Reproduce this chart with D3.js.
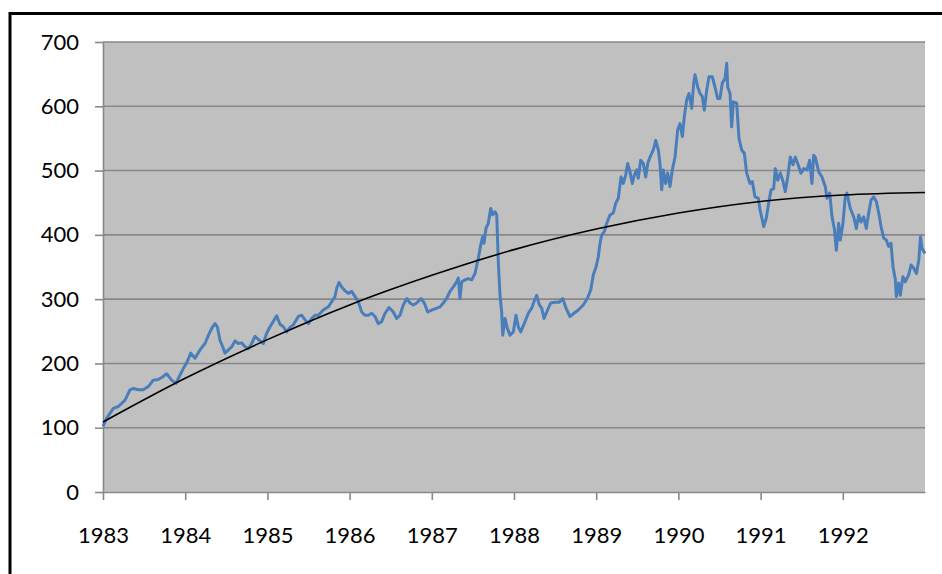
<!DOCTYPE html>
<meta charset="utf-8">

<!-- Load d3.js -->
<script src="https://d3js.org/d3.v7.min.js"></script>

<style>
body {
  margin: 0;
  background: #fff;
  font-family: Lato, "Open Sans", Arial, sans-serif;
}
</style>

<div id="chart"></div>

<script>

// Price series (decimal year, value)
var dates = [
  1983.000, 1983.045, 1983.126, 1983.187, 1983.268, 1983.328, 1983.369, 1983.430, 1983.490, 1983.551,
  1983.612, 1983.673, 1983.714, 1983.775, 1983.835, 1983.888, 1983.937, 1983.977, 1984.026, 1984.067,
  1984.119, 1984.180, 1984.241, 1984.293, 1984.334, 1984.363, 1984.391, 1984.423, 1984.456, 1984.484,
  1984.525, 1984.566, 1984.606, 1984.646, 1984.687, 1984.728, 1984.768, 1984.809, 1984.849, 1984.902,
  1984.950, 1984.991, 1985.032, 1985.113, 1985.153, 1985.193, 1985.235, 1985.275, 1985.315, 1985.376,
  1985.417, 1985.457, 1985.498, 1985.539, 1985.579, 1985.619, 1985.680, 1985.741, 1985.782, 1985.822,
  1985.843, 1985.871, 1985.904, 1985.944, 1985.984, 1986.026, 1986.066, 1986.106, 1986.147, 1986.187,
  1986.228, 1986.269, 1986.309, 1986.349, 1986.390, 1986.431, 1986.479, 1986.532, 1986.573, 1986.613,
  1986.653, 1986.695, 1986.735, 1986.775, 1986.816, 1986.869, 1986.909, 1986.950, 1986.999, 1987.060,
  1987.100, 1987.140, 1987.181, 1987.221, 1987.262, 1987.303, 1987.322, 1987.343, 1987.364, 1987.404,
  1987.444, 1987.485, 1987.526, 1987.566, 1987.595, 1987.619, 1987.635, 1987.659, 1987.687, 1987.717,
  1987.741, 1987.769, 1987.790, 1987.809, 1987.830, 1987.850, 1987.863, 1987.891, 1987.918, 1987.951,
  1987.992, 1988.024, 1988.052, 1988.082, 1988.134, 1988.174, 1988.215, 1988.243, 1988.276, 1988.308,
  1988.337, 1988.365, 1988.398, 1988.446, 1988.499, 1988.551, 1988.593, 1988.633, 1988.681, 1988.730,
  1988.782, 1988.843, 1988.892, 1988.933, 1988.965, 1988.998, 1989.026, 1989.046, 1989.067, 1989.099,
  1989.128, 1989.168, 1989.208, 1989.237, 1989.269, 1989.302, 1989.330, 1989.359, 1989.383, 1989.411,
  1989.439, 1989.464, 1989.493, 1989.512, 1989.541, 1989.573, 1989.602, 1989.627, 1989.655, 1989.695,
  1989.724, 1989.756, 1989.776, 1989.797, 1989.816, 1989.845, 1989.870, 1989.898, 1989.926, 1989.959,
  1989.991, 1990.019, 1990.048, 1990.072, 1990.101, 1990.129, 1990.162, 1990.186, 1990.202, 1990.235,
  1990.263, 1990.291, 1990.315, 1990.344, 1990.372, 1990.412, 1990.445, 1990.478, 1990.506, 1990.534,
  1990.567, 1990.588, 1990.600, 1990.628, 1990.648, 1990.668, 1990.709, 1990.737, 1990.770, 1990.802,
  1990.831, 1990.871, 1990.899, 1990.932, 1990.972, 1990.993, 1991.038, 1991.069, 1991.098, 1991.127,
  1991.159, 1991.179, 1991.208, 1991.240, 1991.273, 1991.300, 1991.330, 1991.361, 1991.394, 1991.422,
  1991.451, 1991.491, 1991.524, 1991.564, 1991.597, 1991.625, 1991.646, 1991.665, 1991.707, 1991.747,
  1991.787, 1991.808, 1991.841, 1991.869, 1991.897, 1991.921, 1991.950, 1991.970, 1992.002, 1992.030,
  1992.051, 1992.091, 1992.133, 1992.164, 1992.194, 1992.221, 1992.254, 1992.286, 1992.315, 1992.343,
  1992.376, 1992.408, 1992.437, 1992.465, 1992.498, 1992.529, 1992.558, 1992.586, 1992.611, 1992.639,
  1992.651, 1992.680, 1992.699, 1992.732, 1992.760, 1992.802, 1992.830, 1992.863, 1992.896, 1992.925,
  1992.945, 1992.964, 1993.000
]

var prices = [
  102, 115, 130, 133, 143, 159, 161, 159, 159, 164,
  174, 175, 178, 184, 174, 169, 182, 192, 203, 216,
  208, 221, 231, 247, 257, 262, 257, 236, 226, 216,
  221, 226, 235, 231, 232, 226, 223, 231, 242, 236,
  231, 247, 257, 274, 261, 257, 249, 256, 260, 273,
  275, 268, 262, 270, 275, 275, 283, 288, 296, 304,
  317, 326, 319, 313, 309, 312, 304, 296, 280, 275,
  275, 278, 273, 262, 265, 278, 287, 280, 270, 275,
  291, 301, 294, 291, 294, 301, 294, 280, 283, 286,
  288, 294, 301, 312, 319, 327, 333, 301, 327, 330,
  332, 330, 340, 364, 384, 397, 387, 410, 418, 441,
  431, 436, 431, 358, 306, 280, 244, 270, 255, 244,
  249, 275, 257, 249, 265, 278, 286, 296, 306, 291,
  286, 270, 280, 294, 295, 295, 301, 286, 273, 278,
  283, 291, 301, 314, 338, 350, 366, 387, 400, 405,
  418, 431, 434, 449, 457, 490, 480, 493, 511, 498,
  480, 493, 501, 488, 516, 511, 490, 511, 521, 532,
  547, 532, 511, 470, 501, 480, 496, 475, 501, 521,
  563, 573, 553, 584, 610, 620, 597, 636, 649, 630,
  620, 615, 594, 625, 646, 646, 630, 612, 612, 636,
  643, 667, 630, 620, 568, 607, 605, 550, 532, 527,
  496, 480, 483, 459, 457, 439, 413, 426, 449, 470,
  472, 503, 485, 496, 483, 467, 490, 521, 509, 521,
  511, 496, 503, 501, 516, 480, 524, 521, 498, 490,
  475, 457, 465, 428, 410, 376, 418, 392, 418, 459,
  465, 441, 428, 410, 431, 420, 428, 410, 434, 454,
  459, 452, 434, 413, 395, 392, 382, 387, 350, 330,
  304, 325, 306, 335, 327, 338, 353, 348, 340, 361,
  397, 379, 371
]

// Trend curve at each year
var trendYears = [1983, 1984, 1985, 1986, 1987, 1988, 1989, 1990, 1991, 1992, 1993]
var trendValues = [109, 177, 237, 291, 337, 377, 409, 434, 452, 462, 466]

// Axis ticks
var xTicks = [1983, 1984, 1985, 1986, 1987, 1988, 1989, 1990, 1991, 1992]
var yTicks = [0, 100, 200, 300, 400, 500, 600, 700]

var width = 942
var height = 574
var plot = {left: 103, right: 925, top: 42, bottom: 492}
var gridColor = "#888888"
var labelFont = "Lato, 'Open Sans', Arial, sans-serif"

var svg = d3.select("#chart")
  .append("svg")
    .attr("width", width)
    .attr("height", height)

// outer frame of the chart object (runs off the right and bottom edges)
svg.append("rect")
  .attr("x", 10)
  .attr("y", 13.5)
  .attr("width", 1000)
  .attr("height", 1000)
  .attr("fill", "none")
  .attr("stroke", "#000")
  .attr("stroke-width", 3)

var x = d3.scaleLinear()
  .domain([1983, 1993])
  .range([plot.left, plot.right])

var y = d3.scaleLinear()
  .domain([0, 700])
  .range([plot.bottom, plot.top])

// plot area
svg.append("rect")
  .attr("x", plot.left)
  .attr("y", plot.top)
  .attr("width", plot.right - plot.left)
  .attr("height", plot.bottom - plot.top)
  .attr("fill", "#c0c0c0")

// horizontal gridlines
svg.append("g")
  .selectAll("line")
  .data(yTicks.filter(function(d){ return d > 0 }))
  .enter()
  .append("line")
    .attr("x1", plot.left)
    .attr("x2", plot.right)
    .attr("y1", function(d){ return y(d) })
    .attr("y2", function(d){ return y(d) })
    .attr("stroke", gridColor)
    .attr("stroke-width", 1.6)

// y axis
var yAxis = svg.append("g")
  .attr("transform", "translate(" + plot.left + ",0)")
  .call(d3.axisLeft(y).tickValues(yTicks).tickSize(8).tickSizeOuter(0).tickPadding(16))
yAxis.select(".domain").attr("stroke", gridColor).attr("stroke-width", 1.6)
yAxis.selectAll(".tick line").attr("stroke", gridColor).attr("stroke-width", 1.6)
yAxis.selectAll("text")
  .attr("fill", "#000")
  .style("font-family", labelFont)
  .style("font-size", "22px")

// x axis
var xAxis = svg.append("g")
  .attr("transform", "translate(0," + plot.bottom + ")")
  .call(d3.axisBottom(x).tickValues(xTicks).tickSize(8).tickSizeOuter(0).tickPadding(27).tickFormat(d3.format("d")))
xAxis.select(".domain").attr("stroke", gridColor).attr("stroke-width", 1.6)
xAxis.selectAll(".tick line").attr("stroke", gridColor).attr("stroke-width", 1.6)
xAxis.selectAll("text")
  .attr("fill", "#000")
  .style("font-family", labelFont)
  .style("font-size", "22px")

// price line
var line = d3.line()
  .x(function(d, i){ return x(dates[i]) })
  .y(function(d){ return y(d) })

svg.append("path")
  .datum(prices)
  .attr("fill", "none")
  .attr("stroke", "#4a7ebb")
  .attr("stroke-width", 3)
  .attr("stroke-linejoin", "round")
  .attr("d", line)

// trend curve
var trend = d3.line()
  .x(function(d, i){ return x(trendYears[i]) })
  .y(function(d){ return y(d) })
  .curve(d3.curveMonotoneX)

svg.append("path")
  .datum(trendValues)
  .attr("fill", "none")
  .attr("stroke", "#000")
  .attr("stroke-width", 1.6)
  .attr("d", trend)

</script>
